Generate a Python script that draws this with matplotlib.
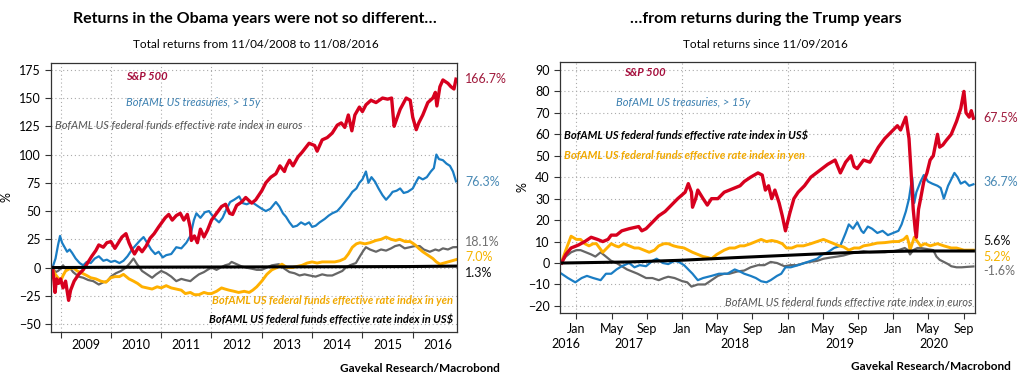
import matplotlib
matplotlib.use("Agg")
import matplotlib.pyplot as plt
import matplotlib.transforms as mtransforms

W, H = 1024, 382
NARROW = ['Liberation Sans Narrow', 'Lato', 'DejaVu Sans']
plt.rcParams['font.family'] = ['Lato', 'DejaVu Sans']

RED = '#d7001e'
BLUE = '#1a7dc4'
ORANGE = '#ffb000'
GRAY = '#666666'

# ---------------- Obama years (11/04/2008 - 11/08/2016) ----------------
sp_obama_t = [2008.84, 2008.87, 2008.89, 2008.92, 2008.96, 2009.0, 2009.05, 2009.1, 2009.16, 2009.2,
              2009.27, 2009.36, 2009.45, 2009.55, 2009.62, 2009.7, 2009.76, 2009.85, 2009.92, 2010.0,
              2010.08, 2010.15, 2010.22, 2010.3, 2010.36, 2010.42, 2010.47, 2010.55, 2010.62, 2010.7,
              2010.78, 2010.86, 2010.95, 2011.08, 2011.15, 2011.22, 2011.3, 2011.38, 2011.45, 2011.52,
              2011.58, 2011.6, 2011.66, 2011.72, 2011.78, 2011.85, 2011.92, 2012.0, 2012.1, 2012.2,
              2012.28, 2012.36, 2012.42, 2012.5, 2012.6, 2012.68, 2012.8, 2012.88, 2013.0, 2013.08,
              2013.18, 2013.28, 2013.36, 2013.45, 2013.48, 2013.55, 2013.62, 2013.72, 2013.8, 2013.94,
              2014.05, 2014.1, 2014.2, 2014.3, 2014.4, 2014.5, 2014.58, 2014.65, 2014.72, 2014.79,
              2014.85, 2014.94, 2015.0, 2015.07, 2015.17, 2015.27, 2015.4, 2015.5, 2015.58, 2015.63,
              2015.67, 2015.75, 2015.87, 2015.95, 2016.0, 2016.07, 2016.12, 2016.2, 2016.3, 2016.4,
              2016.45, 2016.48, 2016.54, 2016.6, 2016.7, 2016.76, 2016.82, 2016.86]
sp_obama = [0, -12, -22, -10, -14, -10, -18, -12, -29, -20,
            -12, -6, -2, 5, 10, 15, 20, 18, 22, 23,
            17, 22, 27, 30, 22, 16, 12, 18, 14, 19,
            26, 30, 36, 44, 47, 42, 46, 48, 42, 47,
            35, 24, 28, 22, 34, 27, 33, 42, 48, 54,
            56, 48, 47, 55, 58, 62, 57, 60, 68, 75,
            80, 83, 90, 85, 89, 95, 90, 98, 102, 110,
            108, 103, 113, 115, 119, 126, 128, 124, 135, 121,
            135, 142, 138, 144, 148, 146, 150, 149, 150, 125,
            130, 140, 150, 148, 133, 122, 128, 135, 146, 150,
            155, 143, 160, 166, 163, 160, 158, 166.7]

tsy_obama_t = [2008.84, 2008.9, 2008.95, 2008.99, 2009.03, 2009.08, 2009.13, 2009.18, 2009.23, 2009.3,
               2009.38, 2009.45, 2009.52, 2009.6, 2009.68, 2009.76, 2009.85, 2009.92, 2010.0, 2010.08,
               2010.17, 2010.25, 2010.33, 2010.42, 2010.5, 2010.58, 2010.65, 2010.72, 2010.8, 2010.88,
               2010.95, 2011.03, 2011.1, 2011.2, 2011.3, 2011.4, 2011.5, 2011.58, 2011.65, 2011.7,
               2011.78, 2011.87, 2011.95, 2012.05, 2012.15, 2012.22, 2012.3, 2012.37, 2012.45, 2012.55,
               2012.62, 2012.7, 2012.8, 2012.9, 2013.0, 2013.08, 2013.17, 2013.28, 2013.35, 2013.42,
               2013.48, 2013.55, 2013.62, 2013.7, 2013.78, 2013.86, 2013.94, 2014.0, 2014.07, 2014.15,
               2014.25, 2014.33, 2014.4, 2014.5, 2014.58, 2014.65, 2014.74, 2014.8, 2014.88, 2014.94,
               2015.0, 2015.07, 2015.12, 2015.18, 2015.25, 2015.32, 2015.4, 2015.47, 2015.55, 2015.6,
               2015.68, 2015.75, 2015.82, 2015.9, 2016.0, 2016.07, 2016.12, 2016.2, 2016.28, 2016.36,
               2016.42, 2016.47, 2016.52, 2016.6, 2016.67, 2016.74, 2016.8, 2016.86]
tsy_obama = [0, 8, 20, 28, 22, 18, 14, 16, 13, 8,
             4, 2, 5, 4, 8, 10, 6, 7, 5, 6,
             4, 6, 10, 16, 20, 24, 27, 22, 16, 12,
             14, 9, 11, 12, 18, 17, 22, 28, 42, 48,
             44, 49, 50, 44, 40, 44, 52, 58, 60, 63,
             57, 56, 58, 55, 52, 50, 52, 58, 54, 48,
             45, 40, 36, 37, 40, 38, 40, 36, 37, 40,
             43, 46, 48, 50, 54, 58, 63, 67, 70, 75,
             78, 85, 75, 80, 76, 70, 64, 60, 64, 67,
             68, 70, 66, 67, 70, 76, 80, 78, 80, 85,
             88, 100, 96, 95, 92, 90, 85, 76.3]

eur_obama_t = [2008.84, 2008.9, 2008.95, 2009.0, 2009.05, 2009.1, 2009.18, 2009.25, 2009.36, 2009.45,
               2009.55, 2009.65, 2009.76, 2009.85, 2009.93, 2010.0, 2010.1, 2010.2, 2010.3, 2010.38,
               2010.45, 2010.52, 2010.62, 2010.72, 2010.82, 2010.9, 2011.0, 2011.1, 2011.2, 2011.3,
               2011.4, 2011.48, 2011.58, 2011.66, 2011.75, 2011.85, 2011.92, 2012.0, 2012.1, 2012.18,
               2012.27, 2012.35, 2012.4, 2012.5, 2012.6, 2012.68, 2012.8, 2012.9, 2013.0, 2013.1,
               2013.2, 2013.34, 2013.45, 2013.55, 2013.65, 2013.75, 2013.85, 2013.95, 2014.07, 2014.2,
               2014.3, 2014.4, 2014.5, 2014.6, 2014.67, 2014.75, 2014.87, 2014.95, 2015.02, 2015.07,
               2015.15, 2015.27, 2015.37, 2015.47, 2015.57, 2015.65, 2015.74, 2015.84, 2015.94, 2016.04,
               2016.14, 2016.22, 2016.34, 2016.45, 2016.52, 2016.6, 2016.7, 2016.8, 2016.86]
eur_obama = [0, -4, -3, -1, 2, -1, 0, -4, -8, -9,
             -11, -12, -15, -13, -12, -8, -5, -3, 0, 4,
             8, 3, -3, -6, -9, -6, -3, -5, -8, -12,
             -10, -11, -12, -9, -6, -4, -2, 0, -2, 0,
             2, 3, 5, 3, 1, 0, -1, -2, -2, 0,
             2, 3, -1, -4, -5, -7, -6, -7, -8, -6,
             -7, -7, -5, -3, 0, 2, 4, 10, 15, 18,
             16, 14, 16, 15, 17, 19, 20, 17, 18, 19,
             19, 16, 14, 16, 15, 17, 16, 18, 18.1]

yen_obama_t = [2008.84, 2008.88, 2008.93, 2009.0, 2009.05, 2009.1, 2009.18, 2009.25, 2009.33, 2009.43,
               2009.52, 2009.6, 2009.7, 2009.8, 2009.9, 2010.0, 2010.08, 2010.17, 2010.25, 2010.36,
               2010.45, 2010.53, 2010.62, 2010.72, 2010.82, 2010.92, 2011.0, 2011.1, 2011.2, 2011.3,
               2011.4, 2011.48, 2011.58, 2011.66, 2011.75, 2011.85, 2011.93, 2012.0, 2012.1, 2012.2,
               2012.27, 2012.35, 2012.45, 2012.54, 2012.65, 2012.75, 2012.82, 2012.9, 2013.0, 2013.1,
               2013.2, 2013.3, 2013.4, 2013.5, 2013.6, 2013.7, 2013.8, 2013.9, 2014.0, 2014.1,
               2014.2, 2014.34, 2014.45, 2014.55, 2014.65, 2014.72, 2014.8, 2014.88, 2014.95, 2015.05,
               2015.15, 2015.27, 2015.37, 2015.47, 2015.57, 2015.66, 2015.74, 2015.85, 2015.95, 2016.05,
               2016.12, 2016.2, 2016.3, 2016.4, 2016.47, 2016.54, 2016.62, 2016.7, 2016.78, 2016.86]
yen_obama = [0, -5, -8, -12, -7, -3, -1, 0, -3, -5,
             -7, -9, -10, -12, -13, -9, -8, -8, -6, -10,
             -12, -14, -17, -18, -19, -17, -18, -16, -18, -19,
             -20, -23, -22, -24, -24, -22, -23, -23, -21, -18,
             -19, -20, -21, -22, -21, -22, -20, -17, -12, -6,
             -2, 0, 3, 0, 0, 1, 2, 4, 5, 4,
             5, 5, 5, 6, 8, 12, 18, 21, 22, 21,
             22, 24, 25, 27, 25, 24, 25, 23, 23, 20,
             17, 14, 11, 8, 5, 3, 4, 5, 6, 7]

usd_obama_t = [2008.84, 2010.0, 2012.0, 2014.0, 2015.9, 2016.86]
usd_obama = [0, 0.3, 0.5, 0.7, 0.9, 1.3]

# ---------------- Trump years (since 11/09/2016) ----------------
sp_trump_t = [2016.86, 2016.9, 2016.95, 2017.02, 2017.08, 2017.14, 2017.2, 2017.25, 2017.3, 2017.33,
              2017.38, 2017.43, 2017.5, 2017.59, 2017.62, 2017.66, 2017.72, 2017.78, 2017.84, 2017.9,
              2017.96, 2018.03, 2018.06, 2018.09, 2018.1, 2018.13, 2018.15, 2018.2, 2018.24, 2018.28,
              2018.34, 2018.4, 2018.45, 2018.5, 2018.55, 2018.59, 2018.65, 2018.72, 2018.76, 2018.79,
              2018.82, 2018.85, 2018.88, 2018.92, 2018.95, 2018.98, 2019.02, 2019.06, 2019.1, 2019.16,
              2019.22, 2019.3, 2019.38, 2019.45, 2019.5, 2019.55, 2019.6, 2019.63, 2019.66, 2019.72,
              2019.78, 2019.86, 2019.92, 2019.98, 2020.04, 2020.07, 2020.12, 2020.15, 2020.17, 2020.19,
              2020.21, 2020.22, 2020.24, 2020.26, 2020.29, 2020.32, 2020.35, 2020.38, 2020.42, 2020.44,
              2020.47, 2020.5, 2020.55, 2020.6, 2020.64, 2020.67, 2020.69, 2020.72, 2020.74, 2020.76]
sp_trump = [0, 4, 7, 8.4, 10, 12, 11, 10, 11, 13,
            13, 15, 16, 17, 15, 16, 19, 22, 24, 27,
            30, 33, 37, 33, 26, 30, 34, 30, 27, 30,
            30, 33, 34, 35, 36, 38, 40, 42, 41, 34,
            36, 30, 34, 28, 22, 15, 23, 30, 33, 36,
            40, 43, 46, 48, 42, 47, 50, 45, 44, 48,
            47, 54, 58, 61, 64, 62, 68, 58, 42, 25,
            15, 12, 25, 30, 38, 42, 48, 50, 60, 54,
            55, 57, 60, 66, 72, 80, 70, 68, 71, 67.5]

tsy_trump_t = [2016.86, 2016.92, 2016.99, 2017.05, 2017.1, 2017.16, 2017.23, 2017.28, 2017.33, 2017.38,
               2017.43, 2017.5, 2017.55, 2017.6, 2017.66, 2017.72, 2017.76, 2017.82, 2017.87, 2017.93,
               2017.97, 2018.02, 2018.06, 2018.1, 2018.15, 2018.2, 2018.28, 2018.35, 2018.43, 2018.5,
               2018.55, 2018.59, 2018.65, 2018.7, 2018.75, 2018.8, 2018.84, 2018.9, 2018.94, 2018.98,
               2019.03, 2019.1, 2019.16, 2019.22, 2019.28, 2019.33, 2019.38, 2019.44, 2019.5, 2019.55,
               2019.58, 2019.62, 2019.66, 2019.7, 2019.72, 2019.76, 2019.8, 2019.85, 2019.9, 2019.95,
               2020.0, 2020.05, 2020.08, 2020.12, 2020.15, 2020.18, 2020.2, 2020.22, 2020.26, 2020.29,
               2020.33, 2020.37, 2020.42, 2020.45, 2020.48, 2020.52, 2020.56, 2020.58, 2020.61, 2020.64,
               2020.68, 2020.72, 2020.76]
tsy_trump = [-5, -7, -9, -7, -6, -7, -8, -5, -5, -3,
             -1.5, 0, -2, -1, -1.5, 1, 2, 0, -0.5, 1,
             0.5, -1, -3, -5, -8, -7, -6, -5, -5, -3,
             -4, -5, -6, -7, -8.5, -9, -8, -6, -5, -2,
             -2, -1, 0, 1, 2, 4, 5, 7, 8, 14,
             18, 16, 19, 15, 14, 17, 16, 14, 15, 13,
             14, 15, 18, 24, 30, 40, 28, 33, 38, 41,
             38, 37, 36, 35, 30, 36, 40, 42, 40, 37,
             38, 36, 36.7]

yen_trump_t = [2016.86, 2016.9, 2016.95, 2017.0, 2017.04, 2017.08, 2017.12, 2017.16, 2017.19, 2017.22,
               2017.25, 2017.29, 2017.33, 2017.37, 2017.4, 2017.45, 2017.5, 2017.55, 2017.59, 2017.64,
               2017.69, 2017.74, 2017.78, 2017.83, 2017.87, 2017.92, 2017.96, 2018.02, 2018.06, 2018.1,
               2018.15, 2018.2, 2018.25, 2018.28, 2018.33, 2018.4, 2018.45, 2018.5, 2018.55, 2018.59,
               2018.65, 2018.7, 2018.75, 2018.8, 2018.85, 2018.9, 2018.95, 2018.99, 2019.04, 2019.09,
               2019.15, 2019.22, 2019.28, 2019.34, 2019.39, 2019.44, 2019.49, 2019.53, 2019.58, 2019.63,
               2019.68, 2019.72, 2019.78, 2019.85, 2019.92, 2020.0, 2020.05, 2020.1, 2020.13, 2020.15,
               2020.16, 2020.18, 2020.2, 2020.23, 2020.26, 2020.3, 2020.35, 2020.42, 2020.48, 2020.55,
               2020.6, 2020.67, 2020.72, 2020.76]
yen_trump = [0.5, 6, 12.5, 11, 11, 9, 8, 9, 9, 7,
             5, 7, 9, 8, 7.5, 9, 8, 7, 7, 6,
             5, 6, 8, 9, 9, 8, 7.5, 7, 6, 5,
             4, 3, 2.5, 2, 4, 6, 7, 7, 8, 8,
             9, 10, 11, 10, 10.5, 10, 9, 7, 7, 8,
             8, 9, 10, 11, 10, 9, 8, 7.5, 6, 7,
             7, 8, 8.5, 9.3, 9.5, 10, 10, 11, 12.5, 9,
             6, 9, 12, 10, 8, 9, 8, 9, 8, 7,
             7, 6, 6, 6]

eur_trump_t = [2016.86, 2016.9, 2016.95, 2017.0, 2017.04, 2017.09, 2017.14, 2017.18, 2017.23, 2017.28,
               2017.33, 2017.38, 2017.43, 2017.48, 2017.53, 2017.58, 2017.62, 2017.66, 2017.72, 2017.78,
               2017.83, 2017.87, 2017.93, 2018.0, 2018.05, 2018.09, 2018.15, 2018.22, 2018.28, 2018.34,
               2018.4, 2018.45, 2018.52, 2018.59, 2018.65, 2018.72, 2018.78, 2018.84, 2018.9, 2018.97,
               2019.03, 2019.09, 2019.16, 2019.22, 2019.28, 2019.34, 2019.4, 2019.47, 2019.53, 2019.6,
               2019.66, 2019.72, 2019.78, 2019.85, 2019.92, 2020.0, 2020.05, 2020.11, 2020.14, 2020.16,
               2020.19, 2020.23, 2020.26, 2020.32, 2020.38, 2020.41, 2020.44, 2020.48, 2020.52, 2020.55,
               2020.6, 2020.65, 2020.7, 2020.76]
eur_trump = [0.3, 3, 5, 6, 6, 5, 4, 3, 5, 3,
             1, 0, -1.5, -3, -4, -5, -6, -7, -7, -8,
             -7, -6.4, -7, -8.4, -9, -11, -10, -10, -8, -6,
             -5, -5, -4, -3.5, -2, -1, -1, 0.5, 0, -1.5,
             -1, -1, 0, 0.6, 1, 2, 2.5, 3, 3.5, 4.5,
             5, 5.5, 5, 5, 5, 5.5, 6, 7, 6, 4,
             6, 7, 7, 6.5, 6, 3, 1.5, 0.5, -0.5, -1.5,
             -2, -2, -1.8, -1.6]

usd_trump_t = [2016.86, 2017.5, 2018.0, 2018.5, 2019.0, 2019.5, 2019.9, 2020.2, 2020.76]
usd_trump = [0, 0.5, 1.3, 2.5, 3.6, 4.7, 5.3, 5.6, 5.6]

obama_end_labels = ['166.7%', '76.3%', '18.1%', '7.0%', '1.3%']
obama_end_y = [166.7, 76, 22.5, 9.5, -5]
trump_end_labels = ['67.5%', '36.7%', '5.6%', '5.2%', '-1.6%']
trump_end_y = [67.6, 37.8, 10.3, 2.8, -3.7]
end_colors = ['#a01a3c', '#4a8ab5', '#707070', '#f5b400', '#111111']
trump_end_colors = ['#a01a3c', '#4a8ab5', '#111111', '#f5b400', '#707070']

fig = plt.figure(figsize=(W / 100, H / 100), dpi=100)


def px(x, y):
    return x / W, 1 - y / H


def style_axes(ax):
    for s in ax.spines.values():
        s.set_color('#333333')
        s.set_linewidth(0.9)
    ax.tick_params(axis='both', which='major', direction='out', length=4, width=0.8,
                   color='#333333', labelsize=9)
    ax.set_ylabel('%', fontsize=9, family=NARROW)


def draw_lines(ax, series):
    for t, v, color, lw in series:
        ax.plot(t, v, color=color, lw=lw, solid_joinstyle='round')


# ---------------- left chart ----------------
ax1 = fig.add_axes([51 / W, 1 - 332 / H, 406 / W, 269 / H])
style_axes(ax1)
draw_lines(ax1, [(eur_obama_t, eur_obama, GRAY, 1.6),
                 (yen_obama_t, yen_obama, ORANGE, 2.1),
                 (tsy_obama_t, tsy_obama, BLUE, 1.6),
                 (sp_obama_t, sp_obama, RED, 2.4),
                 (usd_obama_t, usd_obama, 'black', 2.2)])
ax1.set_xlim(2008.81, 2016.88)
ax1.set_ylim(-57, 181)
ax1.set_yticks(range(-50, 176, 25))
years = list(range(2009, 2017))
ax1.set_xticks(years)
ax1.set_xticklabels([])
ax1.set_xticks([y + 0.5 for y in years], minor=True)
ax1.set_xticklabels([str(y) for y in years], minor=True)
ax1.tick_params(axis='x', which='minor', length=0, labelsize=9, pad=5)
ax1.grid(True, which='major', linestyle=(0, (1, 2.5)), color='#aaaaaa', lw=0.8)
ax1.yaxis.set_label_coords(-0.095, 0.5)

ax1.text(2010.3, 169, 'S&P 500', color='#a50e3c', fontsize=8, style='italic',
         weight='bold', family=NARROW, va='center')
ax1.text(2010.3, 146, 'BofAML US treasuries, > 15y', color='#3a7fb0', fontsize=8,
         style='italic', family=NARROW, va='center')
ax1.text(2008.88, 126, 'BofAML US federal funds effective rate index in euros', color='#555555',
         fontsize=8, style='italic', family=NARROW, va='center')
ax1.text(2016.8, -29, 'BofAML US federal funds effective rate index in yen', color='#f0a800',
         fontsize=8, style='italic', weight='bold', family=NARROW, va='center', ha='right')
ax1.text(2016.8, -46, 'BofAML US federal funds effective rate index in US$', color='black',
         fontsize=8, style='italic', weight='bold', family=NARROW, va='center', ha='right')

tr1 = mtransforms.blended_transform_factory(ax1.transAxes, ax1.transData)
for lab, yv, c in zip(obama_end_labels, obama_end_y, end_colors):
    ax1.text(1.02, yv, lab, color=c, fontsize=9, transform=tr1, va='center', family=NARROW)

fig.text(*px(255, 19), 'Returns in the Obama years were not so different…', ha='center',
         va='center', fontsize=11.5, weight='bold', family=NARROW)
fig.text(*px(256, 44), 'Total returns from 11/04/2008 to 11/08/2016', ha='center',
         va='center', fontsize=8.5, family=NARROW)
fig.text(*px(500, 368), 'Gavekal Research/Macrobond', ha='right', va='center',
         fontsize=8.5, weight='bold', family=NARROW)

# ---------------- right chart ----------------
ax2 = fig.add_axes([560 / W, 1 - 313 / H, 415 / W, 251 / H])
style_axes(ax2)
draw_lines(ax2, [(eur_trump_t, eur_trump, GRAY, 1.6),
                 (tsy_trump_t, tsy_trump, BLUE, 1.6),
                 (yen_trump_t, yen_trump, ORANGE, 2.1),
                 (sp_trump_t, sp_trump, RED, 2.4),
                 (usd_trump_t, usd_trump, 'black', 2.2)])
ax2.set_xlim(2016.845, 2020.775)
ax2.set_ylim(-23.3, 93.7)
ax2.set_yticks(range(-20, 91, 10))
month_ticks = []
month_labels = []
for y in range(2017, 2021):
    for frac, name in [(0, 'Jan'), (4 / 12, 'May'), (8 / 12, 'Sep')]:
        month_ticks.append(y + frac)
        month_labels.append(name)
ax2.set_xticks(month_ticks)
ax2.set_xticklabels(month_labels)
ax2.tick_params(axis='x', pad=3)
ax2.yaxis.grid(True, linestyle=(0, (1, 2.5)), color='#aaaaaa', lw=0.8)
for y in range(2017, 2021):
    ax2.axvline(y, linestyle=(0, (1, 2.5)), color='#aaaaaa', lw=0.8, zorder=0)
ax2.yaxis.set_label_coords(-0.075, 0.5)

tr_year = mtransforms.blended_transform_factory(ax2.transData, ax2.transAxes)
year_pos = [2016.9, 2017.5, 2018.5, 2019.5, 2020.39]
for yp, lab in zip(year_pos, ['2016', '2017', '2018', '2019', '2020']):
    ax2.text(yp, -0.125, lab, transform=tr_year, ha='center', va='center', fontsize=9)

ax2.text(2017.45, 88.6, 'S&P 500', color='#a50e3c', fontsize=8, style='italic',
         weight='bold', family=NARROW, va='center')
ax2.text(2017.38, 74.6, 'BofAML US treasuries, > 15y', color='#3a7fb0', fontsize=8,
         style='italic', family=NARROW, va='center')
ax2.text(2016.88, 59.6, 'BofAML US federal funds effective rate index in US$', color='black',
         fontsize=8, style='italic', weight='bold', family=NARROW, va='center')
ax2.text(2016.88, 50, 'BofAML US federal funds effective rate index in yen', color='#f0a800',
         fontsize=8, style='italic', weight='bold', family=NARROW, va='center')
ax2.text(2020.755, -18.6, 'BofAML US federal funds effective rate index in euros', color='#555555',
         fontsize=8, style='italic', family=NARROW, va='center', ha='right')

tr2 = mtransforms.blended_transform_factory(ax2.transAxes, ax2.transData)
for lab, yv, c in zip(trump_end_labels, trump_end_y, trump_end_colors):
    ax2.text(1.02, yv, lab, color=c, fontsize=9, transform=tr2, va='center', family=NARROW)

fig.text(*px(766, 19), '…from returns during the Trump years', ha='center',
         va='center', fontsize=11.5, weight='bold', family=NARROW)
fig.text(*px(765, 44), 'Total returns since 11/09/2016', ha='center',
         va='center', fontsize=8.5, family=NARROW)
fig.text(*px(1011, 366), 'Gavekal Research/Macrobond', ha='right', va='center',
         fontsize=8.5, weight='bold', family=NARROW)

fig.savefig('out.png', dpi=100)
